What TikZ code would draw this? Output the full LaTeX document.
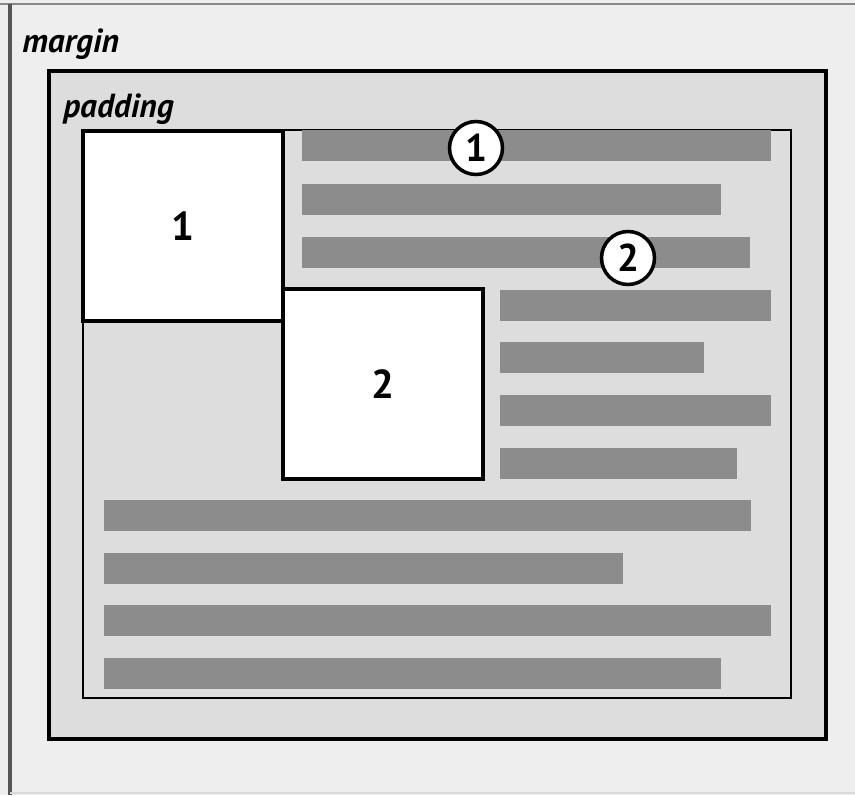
\documentclass[tikz,border=0pt]{standalone}
\usepackage{fontspec}
\setmainfont{PT Sans}
\usetikzlibrary{positioning}
\definecolor{marginbg}{RGB}{238,238,238}
\definecolor{padbg}{RGB}{221,221,221}
\definecolor{barfill}{RGB}{140,140,140}
\definecolor{edgegray}{RGB}{85,85,85}
\tikzset{
  floatbox/.style ={rectangle, draw=black, fill=white, line width=2.1pt, outer sep=0pt,
                minimum width=4cm, minimum height=3.8cm, font=\bfseries\fontsize{23}{23}\selectfont},
  callout/.style ={circle, draw=black, fill=white, line width=2pt, inner sep=0pt,
                minimum size=1.06cm, font=\bfseries\fontsize{22}{22}\selectfont},
  boxlabel/.style ={anchor=base west, inner sep=0pt, font=\bfseries\itshape\fontsize{19}{19}\selectfont},
  textbar/.style ={fill=barfill},
}

\begin{document}
\begin{tikzpicture}[x=0.02cm, y=-0.02cm]
\useasboundingbox (0,0) rectangle (855,795);
\fill[marginbg] (0,0) rectangle (855,795);
\draw[edgegray!70, line width=1.4pt] (0,4) -- (855,4);
\draw[edgegray, line width=2pt] (10,4) -- (10,795);
\draw[black!15, line width=0.8pt] (10,793) -- (855,793);
% border box, padding and content area
\draw[line width=2.2pt, fill=padbg] (49,71) rectangle (826,739);
\draw[line width=1pt] (83,130) rectangle (791,698);
\node[boxlabel] (marginlbl) at (22,52) {margin};
\node[boxlabel] (paddinglbl) at (63,117) {padding};
% lines of text
\foreach \x/\y/\w in {302/130/771, 302/184/721, 302/237/750,
                      500/290/771, 500/342/704, 500/395/771, 500/448/737,
                      104/500/751, 104/553/623, 104/605/771, 104/658/721}
  \fill[textbar] (\x,\y) rectangle (\w,\y+31);
% floats
\node[floatbox, anchor=north west] (float1) at (83,131) {1};
\node[floatbox, anchor=north west] (float2) at (283,289) {2};
\node[callout] (mark1) at (476,148) {1};
\node[callout] (mark2) at (628,258) {2};
\end{tikzpicture}
\end{document}
